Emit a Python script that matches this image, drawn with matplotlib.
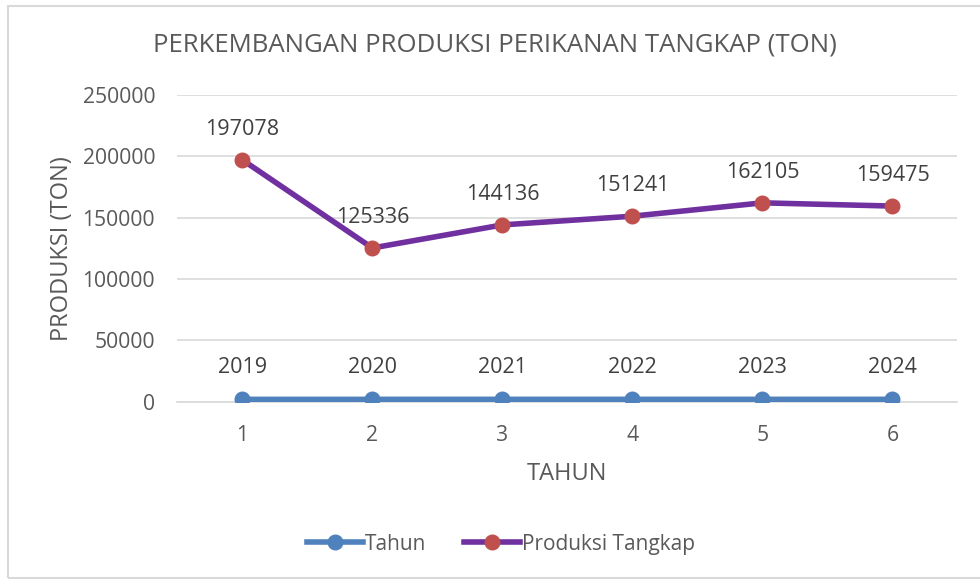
import matplotlib.pyplot as plt
from matplotlib.patches import Rectangle

# data
kategori = [1, 2, 3, 4, 5, 6]
tahun = [2019, 2020, 2021, 2022, 2023, 2024]
produksi = [197078, 125336, 144136, 151241, 162105, 159475]

plt.rcParams['font.family'] = ['Open Sans', 'DejaVu Sans']
teks = '#595959'
grid = '#D9D9D9'

fig = plt.figure(figsize=(9.8, 5.79), dpi=100)
ax = fig.add_axes([0.181, 0.306, 0.796, 0.530])

# chart border like Excel
fig.patches.append(Rectangle((8 / 980, 1 / 579), 1.2, 572 / 579, transform=fig.transFigure,
                             fill=False, edgecolor=grid, linewidth=1.5))

ax.plot(kategori, tahun, color='#4F81BD', linewidth=4, marker='o', markersize=10.5,
        markerfacecolor='#4F81BD', markeredgecolor='#4F81BD', label='Tahun', zorder=3)
ax.plot(kategori, produksi, color='#7030A0', linewidth=4, marker='o', markersize=10.5,
        markerfacecolor='#C0504D', markeredgecolor='#C0504D', label='Produksi Tangkap', zorder=3)

# data labels
for x, v in zip(kategori, tahun):
    ax.annotate(str(v), (x, v), xytext=(0, 23), textcoords='offset points',
                ha='center', va='center', fontsize=15.5, color='#404040')
for x, v in zip(kategori, produksi):
    ax.annotate(str(v), (x, v), xytext=(0, 22), textcoords='offset points',
                ha='center', va='center', fontsize=15.5, color='#404040')

ax.set_xlim(0.5, 6.5)
ax.set_ylim(0, 250000)
ax.set_yticks(range(0, 250001, 50000))
ax.set_xticks(kategori)
ax.yaxis.grid(True, color=grid, linewidth=1.2)
ax.set_axisbelow(True)
for s in ['top', 'right', 'left']:
    ax.spines[s].set_visible(False)
ax.spines['bottom'].set_color(grid)
ax.spines['bottom'].set_linewidth(1.2)
ax.tick_params(axis='both', length=0, labelsize=15.2, labelcolor=teks)
ax.tick_params(axis='x', pad=17)
ax.tick_params(axis='y', pad=16)

fig.text(495 / 980, 1 - 45 / 579, 'PERKEMBANGAN PRODUKSI PERIKANAN TANGKAP (TON)',
         fontsize=18.5, color=teks, ha='center', va='center')
ax.set_xlabel('TAHUN', fontsize=17, color=teks, labelpad=11)
ax.set_ylabel('PRODUKSI (TON)', fontsize=17, color=teks, labelpad=6)

fig.legend(loc='center', bbox_to_anchor=(501 / 980, 0.06), ncol=2, frameon=False,
           fontsize=15, labelcolor=teks, handlelength=2.7, columnspacing=1.8,
           handletextpad=0.1)

fig.savefig('out.png', dpi=100)
